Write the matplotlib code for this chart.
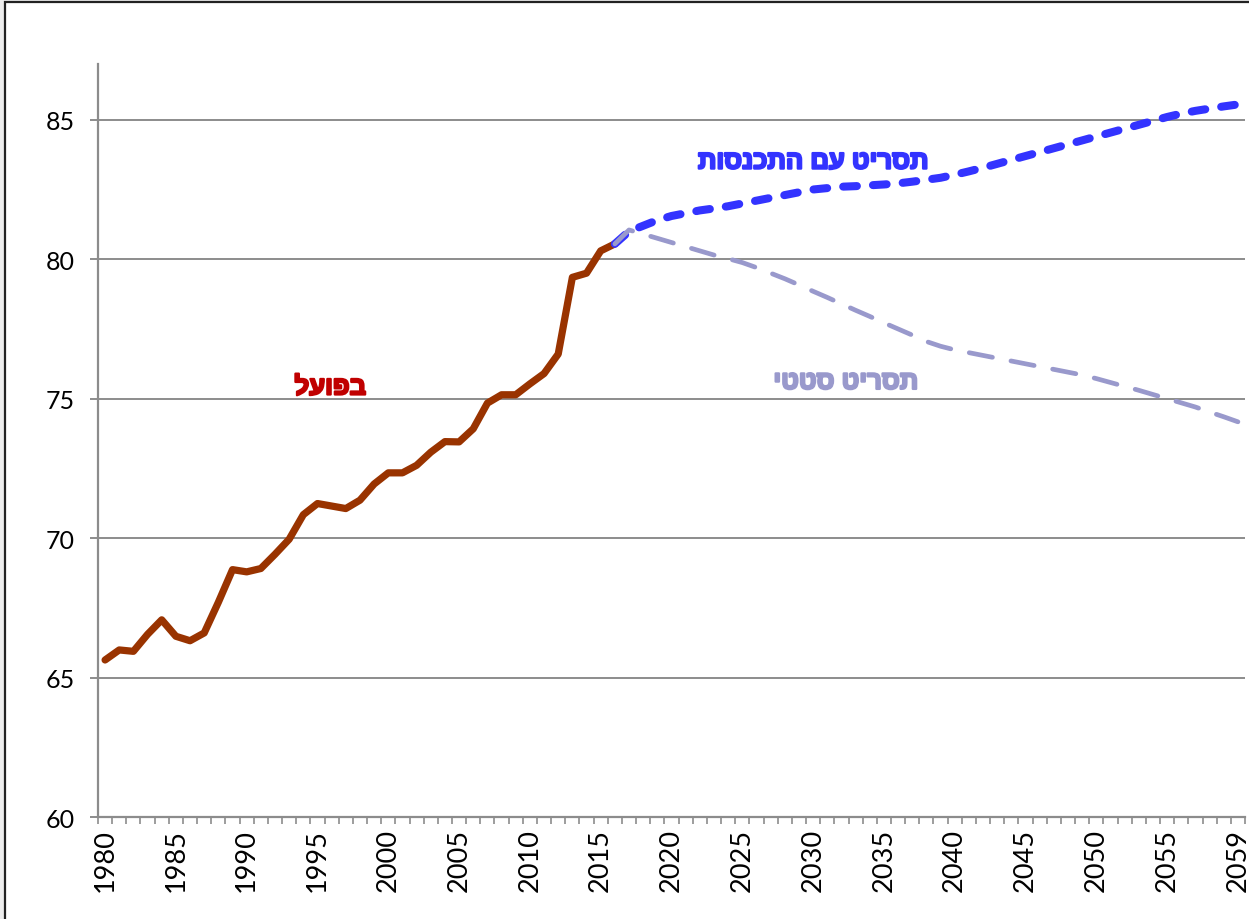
import matplotlib
matplotlib.use("Agg")
import matplotlib.pyplot as plt
from matplotlib.patches import Rectangle
import matplotlib.patheffects as pe

# ---------------- data ----------------
actual_years = list(range(1980, 2017))
actual_values = [65.63, 65.99, 65.94, 66.55, 67.07, 66.48, 66.32, 66.6, 67.7, 68.87,
                 68.79, 68.91, 69.42, 69.96, 70.84, 71.24, 71.15, 71.06, 71.36, 71.94,
                 72.34, 72.34, 72.61, 73.08, 73.46, 73.45, 73.92, 74.84, 75.14, 75.14,
                 75.53, 75.9, 76.6, 79.35, 79.5, 80.3, 80.55]

proj_years = list(range(2016, 2061))
convergence_values = [80.55, 81.0, 81.2, 81.4, 81.55, 81.65, 81.75, 81.82, 81.9, 82.0,
                      82.1, 82.2, 82.3, 82.4, 82.5, 82.55, 82.6, 82.62, 82.65, 82.68,
                      82.72, 82.78, 82.85, 82.92, 83.03, 83.15, 83.28, 83.42, 83.56, 83.7,
                      83.84, 83.98, 84.12, 84.26, 84.4, 84.54, 84.68, 84.82, 84.96, 85.1,
                      85.22, 85.32, 85.4, 85.48, 85.55]
static_values = [80.55, 81.05, 80.9, 80.75, 80.6, 80.45, 80.3, 80.15, 80.02, 79.88,
                 79.7, 79.5, 79.3, 79.08, 78.85, 78.63, 78.4, 78.17, 77.95, 77.72,
                 77.5, 77.28, 77.05, 76.88, 76.75, 76.65, 76.55, 76.45, 76.35, 76.25,
                 76.15, 76.05, 75.95, 75.85, 75.72, 75.58, 75.44, 75.3, 75.15, 75.0,
                 74.85, 74.7, 74.52, 74.35, 74.17]

xtick_positions = [1980, 1985, 1990, 1995, 2000, 2005, 2010, 2015, 2020, 2025,
                   2030, 2035, 2040, 2045, 2050, 2055, 2060]
xtick_labels = ["1980", "1985", "1990", "1995", "2000", "2005", "2010", "2015", "2020",
                "2025", "2030", "2035", "2040", "2045", "2050", "2055", "2059"]
ytick_values = [60, 65, 70, 75, 80, 85]

label_actual = "בפועל"
label_convergence = "תסריט עם התכנסות"
label_static = "תסריט סטטי"


def rtl(s):
    # matplotlib has no bidi support: display Hebrew right-to-left
    return s[::-1]


# ---------------- figure ----------------
W, H = 1249, 920
fig = plt.figure(figsize=(W / 100, H / 100), dpi=100, facecolor="#ededed")

# chart area frame (cut off at right/bottom as in the reference)
fig.patches.append(Rectangle((5 / W, -0.05), 1.1, 1 - 3 / H + 0.05,
                             transform=fig.transFigure, facecolor="white",
                             edgecolor="#222222", linewidth=1.6, zorder=-10))

ax = fig.add_axes([98 / W, 1 - 818 / H, (1245 - 98) / W, (818 - 65) / H])
ax.set_zorder(5)
ax.set_facecolor("none")

ax.set_xlim(1979.5, 2060.5)
ax.set_ylim(60, 87)

for side in ("top", "right"):
    ax.spines[side].set_visible(False)
for side in ("left", "bottom"):
    ax.spines[side].set_color("#8c8c8c")
    ax.spines[side].set_linewidth(1.6)

ax.set_yticks(ytick_values)
ax.set_yticklabels([str(v) for v in ytick_values])
ax.yaxis.grid(True, color="#8c8c8c", linewidth=1.4)
ax.set_axisbelow(True)
ax.tick_params(axis="y", length=6, width=1.4, color="#8c8c8c", pad=11,
               labelsize=18, labelcolor="black")

ax.set_xticks(xtick_positions)
ax.set_xticklabels(xtick_labels, rotation=90)
ax.set_xticks([y - 0.5 for y in range(1980, 2062)], minor=True)
ax.tick_params(axis="x", which="major", length=0, pad=8, labelsize=19.5,
               labelcolor="black")
ax.tick_params(axis="x", which="minor", length=5, width=1.2, color="#8c8c8c")

for lbl in ax.get_xticklabels() + ax.get_yticklabels():
    lbl.set_fontfamily(["Lato", "DejaVu Sans"])

# ---------------- series ----------------
ax.plot(actual_years, actual_values, color="#993300", linewidth=5.2,
        solid_capstyle="round", solid_joinstyle="round", zorder=3)
ax.plot(proj_years, convergence_values, color="#3333ff", linewidth=5.8,
        linestyle=(0, (1.7, 2.0)), dash_capstyle="round", zorder=4)
ax.plot(proj_years, static_values, color="#9999cc", linewidth=3.4,
        linestyle=(0, (5.0, 4.0)), dash_capstyle="round", zorder=5)

# ---------------- labels ----------------
hebrew_font = ["Liberation Sans", "DejaVu Sans"]


def bold_label(x, y, text, color):
    ax.text(x, y, rtl(text), color=color, fontsize=18.5, fontweight="bold",
            ha="center", va="center", family=hebrew_font, zorder=6,
            path_effects=[pe.withStroke(linewidth=1.6, foreground=color)])


bold_label(1995.9, 75.4, label_actual, "#c00000")
bold_label(2030.0, 83.5, label_convergence, "#3333ff")
bold_label(2032.3, 75.6, label_static, "#9999cc")

fig.savefig("out.png", dpi=100, facecolor=fig.get_facecolor())
